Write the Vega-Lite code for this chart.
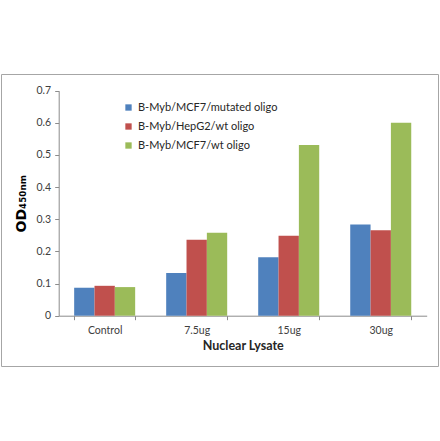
{
  "$schema": "https://vega.github.io/schema/vega-lite/v6.json",
  "autosize": {"type": "none"},
  "padding": {"left": 1, "top": 74, "right": 2, "bottom": 2},
  "width": 437,
  "height": 292,
  "background": "white",
  "config": {
    "view": {"stroke": "#a6a6a6", "strokeWidth": 1},
    "font": "Lato",
    "axis": {"labelColor": "#404040", "labelFont": "Lato", "labelFontSize": 10.5, "domainColor": "#8c8c8c", "tickColor": "#8c8c8c", "grid": false}
  },
  "data": {
    "values": [
      {"dose": "Control", "series": "B-Myb/MCF7/mutated oligo", "od": 0.087},
      {"dose": "Control", "series": "B-Myb/HepG2/wt oligo", "od": 0.093},
      {"dose": "Control", "series": "B-Myb/MCF7/wt oligo", "od": 0.089},
      {"dose": "7.5ug", "series": "B-Myb/MCF7/mutated oligo", "od": 0.133},
      {"dose": "7.5ug", "series": "B-Myb/HepG2/wt oligo", "od": 0.236},
      {"dose": "7.5ug", "series": "B-Myb/MCF7/wt oligo", "od": 0.258},
      {"dose": "15ug", "series": "B-Myb/MCF7/mutated oligo", "od": 0.182},
      {"dose": "15ug", "series": "B-Myb/HepG2/wt oligo", "od": 0.249},
      {"dose": "15ug", "series": "B-Myb/MCF7/wt oligo", "od": 0.531},
      {"dose": "30ug", "series": "B-Myb/MCF7/mutated oligo", "od": 0.284},
      {"dose": "30ug", "series": "B-Myb/HepG2/wt oligo", "od": 0.266},
      {"dose": "30ug", "series": "B-Myb/MCF7/wt oligo", "od": 0.600}
    ]
  },
  "mark": {"type": "bar"},
  "encoding": {
    "x": {
      "field": "dose", "type": "nominal", "sort": ["Control", "7.5ug", "15ug", "30ug"],
      "scale": {"range": [57.7, 425.7], "paddingInner": 0.337, "paddingOuter": 0.168},
      "axis": {"title": "Nuclear Lysate", "titleFont": "Lato", "titleFontSize": 12.5, "titleFontWeight": "bold", "titleColor": "#262626", "titlePadding": 3, "labelAngle": 0, "labelPadding": 6, "tickBand": "extent", "offset": -50.3, "tickSize": 4}
    },
    "xOffset": {"field": "series", "type": "nominal", "sort": ["B-Myb/MCF7/mutated oligo", "B-Myb/HepG2/wt oligo", "B-Myb/MCF7/wt oligo"]},
    "y": {
      "field": "od", "type": "quantitative",
      "scale": {"domain": [0, 0.7], "range": [241.7, 16.7], "nice": false, "zero": true},
      "axis": {"title": "OD₄₅₀ₙₘ", "titleFont": "DejaVu Sans", "titleFontSize": 14, "titleFontWeight": "bold", "titleColor": "#000000", "titlePadding": 8, "values": [0, 0.1, 0.2, 0.3, 0.4, 0.5, 0.6, 0.7], "format": "~g", "offset": -57.7, "tickSize": 4, "labelPadding": 4}
    },
    "color": {
      "field": "series", "type": "nominal",
      "sort": ["B-Myb/MCF7/mutated oligo", "B-Myb/HepG2/wt oligo", "B-Myb/MCF7/wt oligo"],
      "scale": {"range": ["#4f81bd", "#c0504d", "#9bbb59"]},
      "legend": {"title": null, "orient": "none", "legendX": 122, "legendY": 28, "symbolType": "square", "symbolSize": 40, "symbolStrokeWidth": 0, "labelFont": "Lato", "labelFontSize": 11, "labelColor": "#262626", "rowPadding": 7, "labelOffset": 4}
    }
  }
}
